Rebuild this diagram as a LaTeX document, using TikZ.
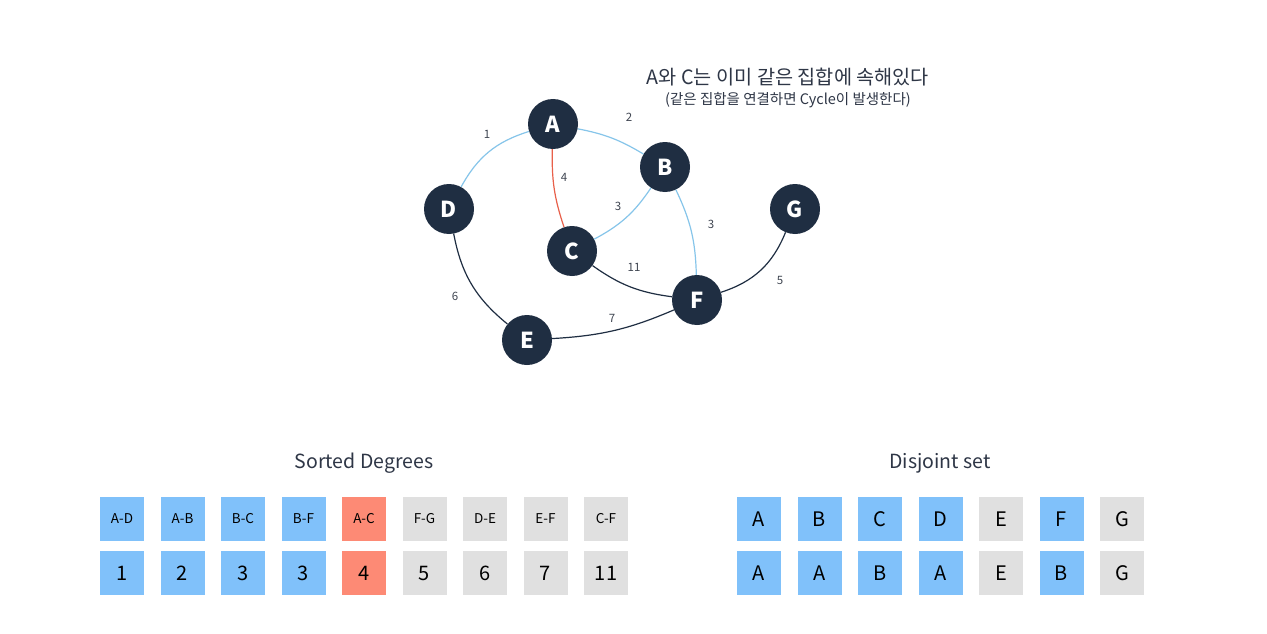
\documentclass[tikz,border=0pt]{standalone}
\usepackage{fontspec}
\setmainfont{Noto Sans CJK KR}
\definecolor{navy}{HTML}{1F2E42}
\definecolor{ebl}{HTML}{86C5EA}
\definecolor{ered}{HTML}{E8604A}
\definecolor{bblue}{HTML}{80C1FA}
\definecolor{bred}{HTML}{FD8A75}
\definecolor{bgray}{HTML}{E0E0E0}
\definecolor{txt}{HTML}{2E3646}
\definecolor{lbl}{HTML}{404652}
\tikzset{
  vtx/.style={circle, fill=navy, minimum size=50pt, inner sep=0pt, text=white, font=\fontsize{22}{22}\selectfont\bfseries},
  elbl/.style={text=lbl, font=\fontsize{11.5}{11.5}\selectfont, inner sep=0pt},
  eblue/.style={draw=ebl, line width=1.2pt},
  eredl/.style={draw=ered, line width=1.2pt},
  edark/.style={draw=navy, line width=1.2pt},
  boxs/.style={minimum width=44pt, minimum height=44pt, inner sep=0pt, text=black},
  smallt/.style={font=\fontsize{13.5}{13.5}\selectfont},
  bigt/.style={font=\fontsize{20}{20}\selectfont},
  ttl/.style={text=txt, font=\fontsize{19.5}{19.5}\selectfont},
}
\begin{document}
\begin{tikzpicture}[x=1pt,y=-1pt]
\useasboundingbox (0,0) rectangle (1267,634);
\fill[white] (0,0) rectangle (1267,634);
% title
\node[text=txt, font=\fontsize{19.7}{19.7}\selectfont] (t1) at (788,77) {A와 C는 이미 같은 집합에 속해있다};
\node[text=txt, font=\fontsize{14.5}{14.5}\selectfont] (t2) at (788,100) {(같은 집합을 연결하면 Cycle이 발생한다)};
% vertices
\node[vtx] (A) at (553,124) {A};
\node[vtx] (B) at (665,167) {B};
\node[vtx] (D) at (449,209) {D};
\node[vtx] (G) at (795,209) {G};
\node[vtx] (C) at (572,251) {C};
\node[vtx] (F) at (697,300) {F};
\node[vtx] (E) at (527,340) {E};
% edges
\draw[eblue] (D) to[bend left=22] (A);
\draw[eblue] (A) to[bend left=10] (B);
\draw[eredl] (A) to[bend right=10] (C);
\draw[eblue] (B) to[bend left=14] (C);
\draw[eblue] (B) to[bend left=12] (F);
\draw[edark] (C) to[bend right=14] (F);
\draw[edark] (D) to[bend right=20] (E);
\draw[edark] (E) to[bend right=10] (F);
\draw[edark] (F) to[bend right=25] (G);
% edge labels
\node[elbl] (l1) at (487,134) {1};
\node[elbl] (l2) at (629,117) {2};
\node[elbl] (l4) at (564,177) {4};
\node[elbl] (l3a) at (618,206) {3};
\node[elbl] (l3b) at (711,224) {3};
\node[elbl] (l11) at (634,267) {11};
\node[elbl] (l5) at (780,280) {5};
\node[elbl] (l6) at (455,296) {6};
\node[elbl] (l7) at (612,318) {7};
% Sorted degrees
\node[ttl] (sd) at (364,463) {Sorted Degrees};
\foreach \i/\e/\w/\c in {0/A-D/1/bblue,1/A-B/2/bblue,2/B-C/3/bblue,3/B-F/3/bblue,4/A-C/4/bred,5/F-G/5/bgray,6/D-E/6/bgray,7/E-F/7/bgray,8/C-F/11/bgray}{
  \node[boxs, fill=\c, smallt] (se\i) at ({122+60.5*\i},519) {\e};
  \node[boxs, fill=\c, bigt] (sw\i) at ({122+60.5*\i},573) {\w};
}
% Disjoint set
\node[ttl] (ds) at (940,463) {Disjoint set};
\foreach \i/\a/\b/\c in {0/A/A/bblue,1/B/A/bblue,2/C/B/bblue,3/D/A/bblue,4/E/E/bgray,5/F/B/bblue,6/G/G/bgray}{
  \node[boxs, fill=\c, bigt] (dt\i) at ({759+60.5*\i},519) {\a};
  \node[boxs, fill=\c, bigt] (db\i) at ({759+60.5*\i},573) {\b};
}
\end{tikzpicture}
\end{document}
